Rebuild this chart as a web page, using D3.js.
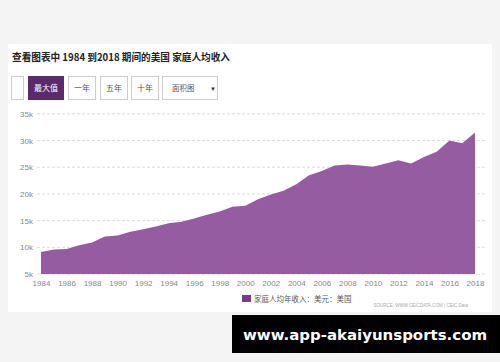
<!DOCTYPE html>
<html>
<head>
<meta charset="utf-8">
<script src="https://cdn.jsdelivr.net/npm/d3@7"></script>
<style>
  body { margin: 0; background: #f4f4f4; font-family: "Liberation Sans", "Noto Sans CJK SC", sans-serif; }
  svg { display: block; }
</style>
</head>
<body>
<svg id="chart" width="500" height="362"></svg>
<script>
// data
const years = d3.range(1984, 2019);
const income = [9100, 9600, 9700, 10400, 10900, 12000, 12200, 12900, 13400, 13900,
  14500, 14800, 15400, 16100, 16700, 17600, 17800, 19000, 19900, 20600,
  21800, 23500, 24300, 25300, 25500, 25300, 25100, 25700, 26300, 25700,
  26900, 27900, 30000, 29500, 31500];
const yTicks = [5000, 10000, 15000, 20000, 25000, 30000, 35000];
const xTicks = d3.range(1984, 2019, 2);
const buttons = ["最大值", "一年", "五年", "十年"];

const svg = d3.select("#chart");

// white panel
svg.append("rect").attr("x", 8).attr("y", 44).attr("width", 484).attr("height", 268).attr("fill", "#fff");

svg.append("text")
  .attr("x", 12).attr("y", 61)
  .attr("font-size", 10).attr("font-weight", "bold").attr("fill", "#222")
  .attr("font-family", "'Noto Sans CJK SC', sans-serif")
  .attr("textLength", 218).attr("lengthAdjust", "spacingAndGlyphs")
  .text("查看图表中 1984 到2018 期间的美国 家庭人均收入");

// button row
svg.append("rect").attr("x", 11.5).attr("y", 76.5).attr("width", 12).attr("height", 23)
  .attr("fill", "#fff").attr("stroke", "#ccc");
const btnX = [28, 68, 100, 131];
const btnW = [35, 27, 27, 27];
buttons.forEach((b, i) => {
  svg.append("rect").attr("x", btnX[i] + 0.5).attr("y", 76.5).attr("width", btnW[i]).attr("height", 23)
    .attr("fill", i === 0 ? "#5a2a6c" : "#fff").attr("stroke", i === 0 ? "#5a2a6c" : "#ccc");
  svg.append("text").attr("x", btnX[i] + btnW[i] / 2 + 0.5).attr("y", 91)
    .attr("text-anchor", "middle").attr("font-size", 8)
    .attr("font-family", "'Noto Sans CJK SC', sans-serif")
    .attr("fill", i === 0 ? "#fff" : "#555").text(b);
});
svg.append("rect").attr("x", 162.5).attr("y", 76.5).attr("width", 55).attr("height", 23)
  .attr("fill", "#fff").attr("stroke", "#ccc");
svg.append("text").attr("x", 172).attr("y", 91).attr("font-size", 7.5)
  .attr("font-family", "'Noto Sans CJK SC', sans-serif").attr("fill", "#555").text("面积图");
svg.append("text").attr("x", 210).attr("y", 91).attr("font-size", 6).attr("fill", "#333").text("▼");

// scales
const x = d3.scaleLinear().domain([1984, 2018]).range([41, 475]);
const y = d3.scaleLinear().domain([5000, 35000]).range([274, 113.8]);

// grid
svg.append("g").selectAll("line").data(yTicks).join("line")
  .attr("x1", 37).attr("x2", 486)
  .attr("y1", d => y(d)).attr("y2", d => y(d))
  .attr("stroke", "#ddd").attr("stroke-dasharray", "3,2");

// area
const area = d3.area()
  .x((d, i) => x(years[i]))
  .y0(y(5000))
  .y1(d => y(d));
svg.append("path").datum(income).attr("d", area).attr("fill", "#965ca1");

// y axis labels
const yAxis = svg.append("g").attr("transform", "translate(33,0)")
  .call(d3.axisLeft(y).tickValues(yTicks).tickSize(0).tickPadding(0).tickFormat(d => d / 1000 + "k"));
yAxis.select(".domain").remove();
yAxis.selectAll("text").attr("font-size", 8).attr("fill", "#888").attr("font-family", "'Liberation Sans', sans-serif");

// x axis labels
const xAxis = svg.append("g").attr("transform", "translate(0,278)")
  .call(d3.axisBottom(x).tickValues(xTicks).tickSize(0).tickPadding(2).tickFormat(d3.format("d")));
xAxis.select(".domain").remove();
xAxis.selectAll("text").attr("font-size", 8).attr("fill", "#888").attr("font-family", "'Liberation Sans', sans-serif");

// legend
svg.append("rect").attr("x", 242).attr("y", 295).attr("width", 9).attr("height", 7).attr("fill", "#7a3a8b");
svg.append("text").attr("x", 254).attr("y", 302).attr("font-size", 7.5).attr("fill", "#555")
  .attr("font-family", "'Noto Sans CJK SC', sans-serif").text("家庭人均年收入：美元：美国");
svg.append("text").attr("x", 468).attr("y", 307).attr("text-anchor", "end").attr("font-size", 4.5)
  .attr("fill", "#aaa").text("SOURCE: WWW.CEICDATA.COM | CEIC Data");

// banner
svg.append("rect").attr("x", 232).attr("y", 315).attr("width", 268).attr("height", 38).attr("fill", "#000");
svg.append("text").attr("x", 243).attr("y", 340)
  .attr("font-size", 14.5).attr("font-weight", "bold").attr("fill", "#fff")
  .attr("font-family", "'DejaVu Sans', sans-serif")
  .attr("textLength", 244).attr("lengthAdjust", "spacingAndGlyphs")
  .text("www.app-akaiyunsports.com");
</script>
</body>
</html>
